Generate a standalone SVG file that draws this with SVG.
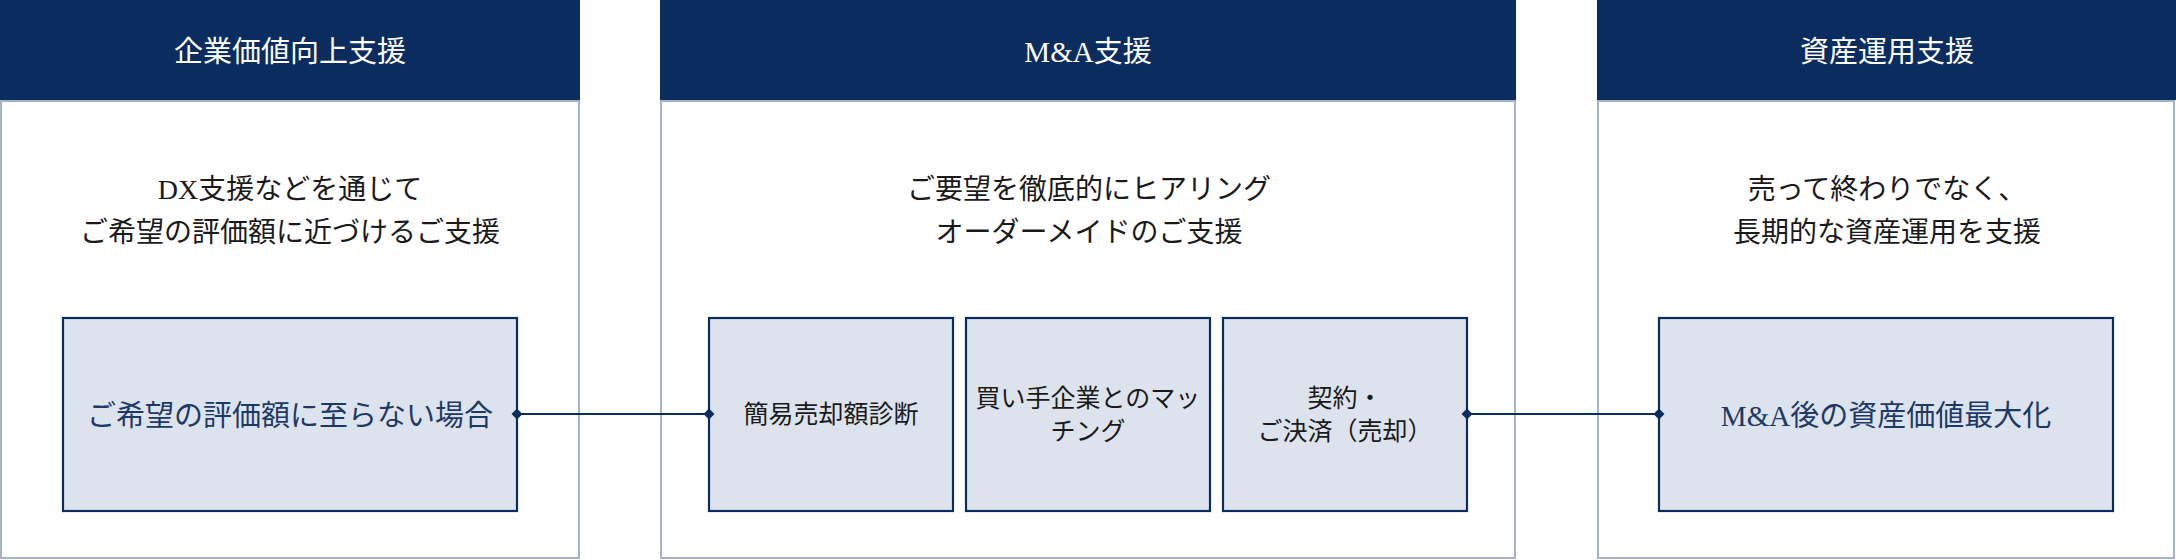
<svg xmlns="http://www.w3.org/2000/svg" width="2176" height="560" viewBox="0 0 2176 560">
<style>
.hdr{fill:#0a2c5e}
.panel{fill:#ffffff;stroke:#a6b2c6;stroke-width:2}
.box{fill:#dde3ed;stroke:#0a2c5e;stroke-width:2.2}
text{font-family:"Liberation Serif","Noto Sans CJK JP",serif;text-anchor:middle;dominant-baseline:central}
.ht{fill:#ffffff;font-size:29px}
.st{fill:#1a1a1a;font-size:28px}
.bt{fill:#1d3a66;font-size:29px}
.bs{fill:#1a1a1a;font-size:25px}
.conn{stroke:#0a2c5e;stroke-width:2.2;fill:none}
</style>
<defs>
<marker id="dia" viewBox="-6 -6 12 12" markerWidth="12" markerHeight="12" refX="0" refY="0" markerUnits="userSpaceOnUse" orient="auto">
<path d="M-5.5 0 L0 -5.5 L5.5 0 L0 5.5 Z" fill="#0a2c5e"/>
</marker>
</defs>
<rect width="2176" height="560" fill="#ffffff"/>
<g id="panel-1">
<rect class="panel" x="1" y="101" width="578" height="457"/>
<rect class="hdr" x="0" y="0" width="580" height="100"/>
<text class="ht" x="290" y="52">企業価値向上支援</text>
<text class="st" x="290" y="189">DX支援などを通じて</text>
<text class="st" x="290" y="232">ご希望の評価額に近づけるご支援</text>
</g>
<g id="panel-2">
<rect class="panel" x="661" y="101" width="854" height="457"/>
<rect class="hdr" x="660" y="0" width="856" height="100"/>
<text class="ht" x="1088" y="52">M&amp;A支援</text>
<text class="st" x="1089" y="189">ご要望を徹底的にヒアリング</text>
<text class="st" x="1089" y="232">オーダーメイドのご支援</text>
</g>
<g id="panel-3">
<rect class="panel" x="1598" y="101" width="576" height="457"/>
<rect class="hdr" x="1597" y="0" width="579" height="100"/>
<text class="ht" x="1887" y="52">資産運用支援</text>
<text class="st" x="1887" y="189">売って終わりでなく、</text>
<text class="st" x="1887" y="232">長期的な資産運用を支援</text>
</g>
<g id="node-below-target">
<rect class="box" x="63" y="318" width="454" height="193"/>
<text class="bt" x="290" y="416">ご希望の評価額に至らない場合</text>
</g>
<g id="node-valuation">
<rect class="box" x="709" y="318" width="244" height="193"/>
<text class="bs" x="831" y="414">簡易売却額診断</text>
</g>
<g id="node-matching">
<rect class="box" x="966" y="318" width="244" height="193"/>
<text class="bs" x="1088" y="398">買い手企業とのマッ</text>
<text class="bs" x="1088" y="431">チング</text>
</g>
<g id="node-settlement">
<rect class="box" x="1223" y="318" width="244" height="193"/>
<text class="bs" x="1345" y="398">契約・</text>
<text class="bs" x="1345" y="431">ご決済（売却）</text>
</g>
<g id="node-asset">
<rect class="box" x="1659" y="318" width="454" height="193"/>
<text class="bt" x="1886" y="416">M&amp;A後の資産価値最大化</text>
</g>
<g id="connectors">
<line class="conn" x1="517" y1="414" x2="709" y2="414" marker-start="url(#dia)" marker-end="url(#dia)"/>
<line class="conn" x1="1467" y1="414" x2="1659" y2="414" marker-start="url(#dia)" marker-end="url(#dia)"/>
</g>
</svg>
